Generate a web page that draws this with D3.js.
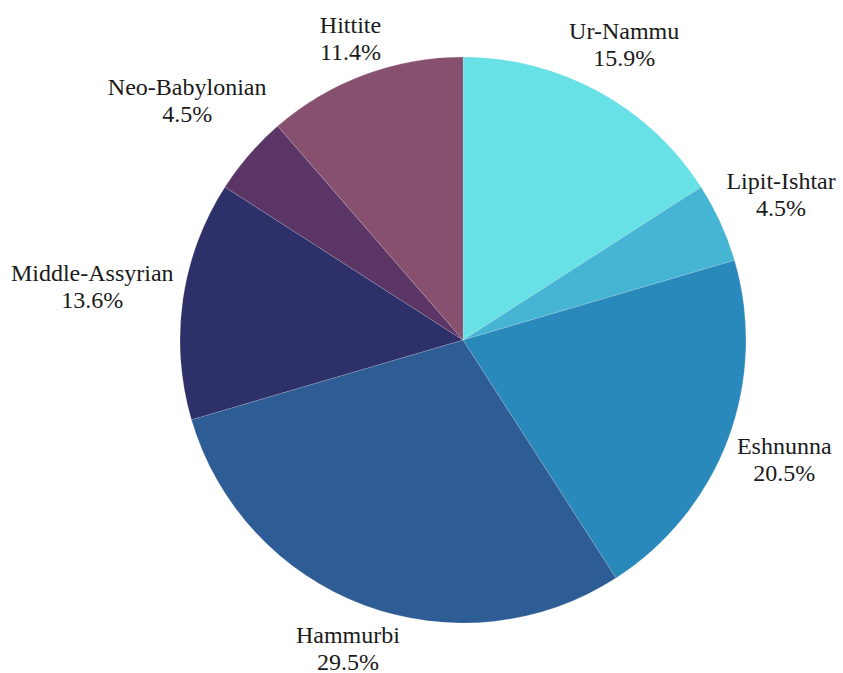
<!DOCTYPE html>
<html>
<head>
<meta charset="utf-8">
<script src="https://cdn.jsdelivr.net/npm/d3@7"></script>
<style>
  html, body { margin: 0; padding: 0; background: #fff; }
  svg { display: block; }
</style>
</head>
<body>
<svg id="chart" width="843" height="673"></svg>
<script>
const categories = ["Ur-Nammu", "Lipit-Ishtar", "Eshnunna", "Hammurbi", "Middle-Assyrian", "Neo-Babylonian", "Hittite"];
const counts = [7, 2, 9, 13, 6, 2, 5];
const colors = ["#67e0e6", "#45b5d3", "#2a89bb", "#2e5c95", "#2e3169", "#5a3565", "#87506e"];
const fontFamilies = ["Liberation Serif", "DejaVu Serif", "Times New Roman", "serif"];

const W = 843, H = 673;
const cx = 463, cy = 340, R = 283;
const labelR = 291, fontSize = 24, lineGap = 27, capH = 16;

const svg = d3.select("#chart");
const g = svg.append("g").attr("transform", `translate(${cx},${cy})`);

const data = categories.map((c, i) => ({ name: c, value: counts[i], color: colors[i] }));
const total = d3.sum(counts);
const pie = d3.pie().value(d => d.value).sort(null);
const arc = d3.arc().innerRadius(0).outerRadius(R);
const arcs = pie(data);

g.selectAll("path.slice").data(arcs).join("path")
  .attr("class", "slice")
  .attr("d", arc)
  .attr("fill", d => d.data.color)
  .attr("stroke", "#ffffff")
  .attr("stroke-opacity", 0.3)
  .attr("stroke-width", 0.5);

const fmt = d3.format(".1%");

const labels = g.selectAll("text.lbl").data(arcs).join("text")
  .attr("class", "lbl")
  .style("font-family", fontFamilies.map(f => f === "serif" ? f : `"${f}"`).join(", "))
  .style("font-size", fontSize + "px")
  .attr("fill", "#1a1a1a")
  .attr("text-anchor", "middle");

labels.append("tspan").attr("class", "l1").text(d => d.data.name);
labels.append("tspan").attr("class", "l2").text(d => fmt(d.data.value / total));

labels.each(function(d) {
  const t = d3.select(this);
  const w = Math.max(t.select(".l1").node().getComputedTextLength(), t.select(".l2").node().getComputedTextLength());
  const h = capH + lineGap;
  const a = (d.startAngle + d.endAngle) / 2;
  const s = Math.sin(a), c = -Math.cos(a);
  const dist = labelR + Math.abs(s) * w / 2 + Math.abs(c) * h / 2;
  const x = s * dist, y = c * dist;
  const top = y - h / 2;
  t.select(".l1").attr("x", x).attr("y", top + capH);
  t.select(".l2").attr("x", x).attr("y", top + capH + lineGap);
});
</script>
</body>
</html>
